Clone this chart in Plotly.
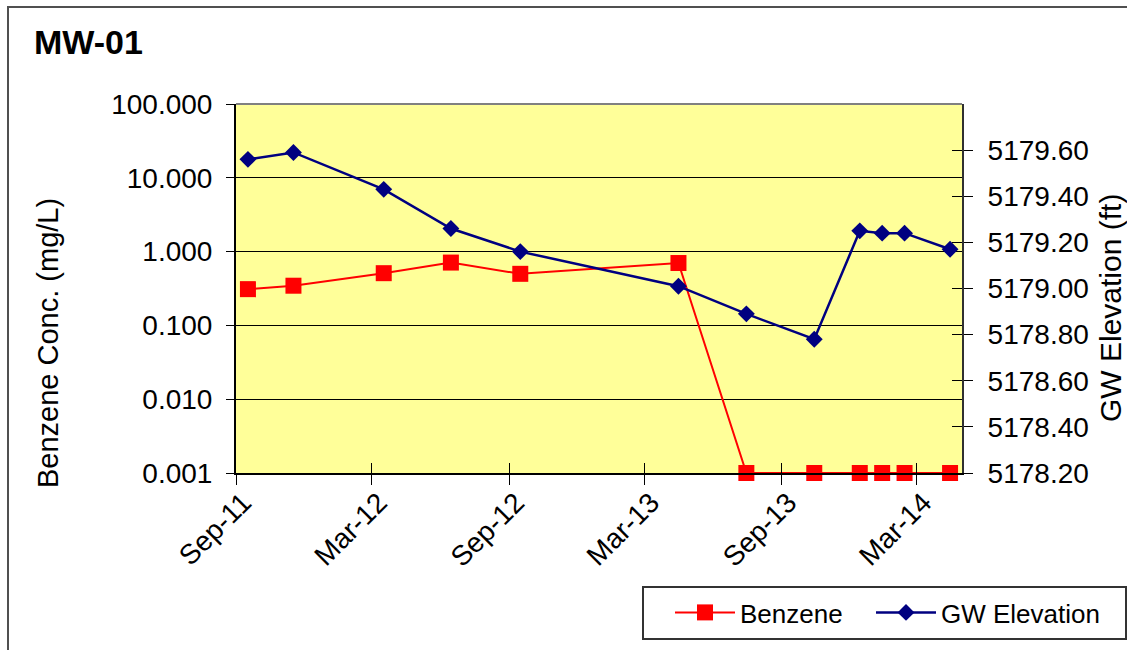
import plotly.graph_objects as go

# ---- data ----
dates = ["2011-09-17", "2011-11-17", "2012-03-17", "2012-06-15", "2012-09-16",
         "2013-04-16", "2013-07-16", "2013-10-15", "2013-12-15", "2014-01-14",
         "2014-02-13", "2014-04-15"]
benzene = [0.31, 0.345, 0.51, 0.71, 0.50, 0.70, 0.001, 0.001, 0.001, 0.001, 0.001, 0.001]
gw_elev = [5179.56, 5179.59, 5179.43, 5179.26, 5179.16, 5179.01, 5178.89, 5178.78,
           5179.25, 5179.24, 5179.24, 5179.17]

conc_ticks = [0.001, 0.01, 0.1, 1, 10, 100]
elev_ticks = [5178.2, 5178.4, 5178.6, 5178.8, 5179.0, 5179.2, 5179.4, 5179.6]
x_range = ["2011-09-01", "2014-05-01"]
elev_range = [5178.2, 5179.8]

title_text = "MW-01"
left_title = "Benzene Conc. (mg/L)"
right_title = "GW Elevation (ft)"

FONT = "Liberation Sans, Arial, sans-serif"

W, H = 1127, 650
ML, MR, MT, MB = 236, 165, 104, 177
PW, PH = W - ML - MR, H - MT - MB


def px_x(p):
    return (p - ML) / PW


def px_y(p):
    return 1 - (p - MT) / PH


fig = go.Figure()

fig.add_trace(go.Scatter(
    x=dates, y=benzene, name="Benzene", mode="lines+markers",
    line=dict(color="#FF0000", width=2),
    marker=dict(symbol="square", size=16, color="#FF0000"),
    xaxis="x", yaxis="y", legend="legend", cliponaxis=False,
))
fig.add_trace(go.Scatter(
    x=dates, y=gw_elev, name="GW Elevation", mode="lines+markers",
    line=dict(color="#000080", width=2.5),
    marker=dict(symbol="diamond", size=13, color="#000080"),
    xaxis="x", yaxis="y2", legend="legend2", cliponaxis=False,
))
# empty helper traces so that the overlay tick axes are drawn
fig.add_trace(go.Scatter(x=[], y=[], xaxis="x2", yaxis="y", showlegend=False, hoverinfo="skip"))
fig.add_trace(go.Scatter(x=[], y=[], xaxis="x", yaxis="y3", showlegend=False, hoverinfo="skip"))

tickfont = dict(family=FONT, size=28, color="#000000")
legfont = dict(family=FONT, size=26, color="#000000")

fig.update_layout(
    width=W, height=H,
    margin=dict(l=ML, r=MR, t=MT, b=MB, autoexpand=False),
    paper_bgcolor="#FFFFFF",
    plot_bgcolor="#FFFF99",
    font=dict(family=FONT, color="#000000"),
    xaxis=dict(
        type="date", range=x_range, tick0="2011-09-01", dtick="M6",
        tickformat="%b-%y", tickangle=-45, tickfont=tickfont,
        ticks="outside", ticklen=10, tickwidth=1, tickcolor="#000000",
        showgrid=False, zeroline=False,
        showline=True, linecolor="#000000", linewidth=2,
        automargin=False, ticklabelstandoff=-10, ticklabelshift=7,
    ),
    xaxis2=dict(
        type="date", range=x_range, tick0="2011-09-01", dtick="M6",
        overlaying="x", anchor="y", side="bottom",
        ticks="inside", ticklen=10, tickwidth=1, tickcolor="#000000",
        showticklabels=False, showgrid=False, zeroline=False, showline=False,
        automargin=False,
    ),
    yaxis=dict(
        type="log", range=[-3, 2], tickmode="array", tickvals=conc_ticks,
        tickformat=".3f", tickfont=tickfont,
        ticks="outside", ticklen=8, tickwidth=1, tickcolor="#000000",
        showgrid=True, gridcolor="#000000", gridwidth=1, zeroline=False,
        showline=True, linecolor="#000000", linewidth=2,
        automargin=False, ticklabelstandoff=8,
    ),
    yaxis2=dict(
        range=elev_range, tickmode="array", tickvals=elev_ticks,
        tickformat=".2f", tickfont=tickfont,
        overlaying="y", side="right", anchor="x",
        ticks="outside", ticklen=9, tickwidth=1, tickcolor="#000000",
        showgrid=False, zeroline=False,
        showline=True, linecolor="#303030", linewidth=2,
        automargin=False, ticklabelstandoff=9,
    ),
    yaxis3=dict(
        range=elev_range, tickmode="array", tickvals=elev_ticks,
        overlaying="y", side="right", anchor="x",
        ticks="inside", ticklen=10, tickwidth=1, tickcolor="#000000",
        showticklabels=False, showgrid=False, zeroline=False, showline=False,
        automargin=False,
    ),
    legend=dict(
        orientation="h", x=px_x(670), y=px_y(589), xanchor="left", yanchor="top",
        bgcolor="rgba(0,0,0,0)", borderwidth=0, font=legfont, itemwidth=60,
    ),
    legend2=dict(
        orientation="h", x=px_x(871), y=px_y(589), xanchor="left", yanchor="top",
        bgcolor="rgba(0,0,0,0)", borderwidth=0, font=legfont, itemwidth=60,
    ),
    showlegend=True,
)

# plot-area top edge (gray), outer chart border and legend frame
fig.add_shape(type="line", xref="paper", yref="paper", x0=0, x1=1, y0=1, y1=1,
              line=dict(color="#808080", width=2), layer="above")
fig.add_shape(type="rect", xref="paper", yref="paper",
              x0=px_x(8), x1=px_x(1140), y0=px_y(7), y1=px_y(665),
              line=dict(color="#505050", width=2), layer="below")
fig.add_shape(type="rect", xref="paper", yref="paper",
              x0=px_x(643), x1=px_x(1126), y0=px_y(587), y1=px_y(639),
              line=dict(color="#333333", width=2), fillcolor="#FFFFFF", layer="above")

fig.add_annotation(text=f"<b>{title_text}</b>", xref="paper", yref="paper",
                   x=px_x(32), y=px_y(42.5), xanchor="left", yanchor="middle",
                   showarrow=False, font=dict(family=FONT, size=34, color="#000000"))
fig.add_annotation(text=left_title, xref="paper", yref="paper",
                   x=px_x(48), y=px_y(343), xanchor="center", yanchor="middle",
                   textangle=-90, showarrow=False,
                   font=dict(family=FONT, size=29, color="#000000"))
fig.add_annotation(text=right_title, xref="paper", yref="paper",
                   x=px_x(1110), y=px_y(308), xanchor="center", yanchor="middle",
                   textangle=-90, showarrow=False,
                   font=dict(family=FONT, size=30, color="#000000"))

fig.write_html("out.html", config={"displayModeBar": False},
               post_script="document.body.style.margin='0';document.body.style.overflow='hidden';")
